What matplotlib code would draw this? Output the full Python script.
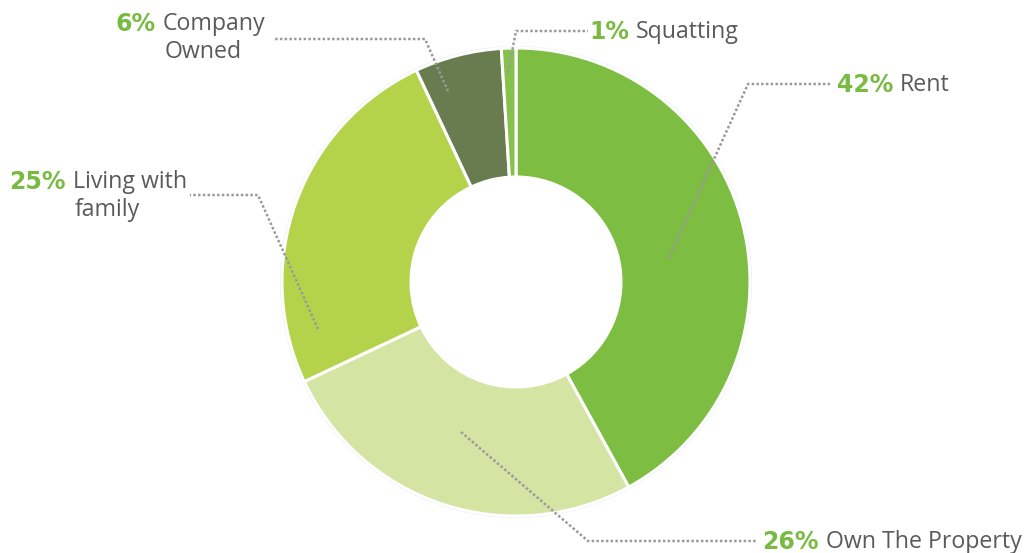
import matplotlib
matplotlib.use("Agg")
import matplotlib.pyplot as plt
from matplotlib.patches import Wedge

# ---- data ----
categories = ["Rent", "Own The Property", "Living with\nfamily", "Company\nOwned", "Squatting"]
shares = [42, 26, 25, 6, 1]
pct_labels = ["42%", "26%", "25%", "6%", "1%"]
colors = ["#7dbd42", "#d4e4a2", "#b4d34b", "#687c50", "#86c24b"]

# ---- layout (pixel space, y downward) ----
W, H = 1027, 553
center = (516, 282)
r_out, ring = 234, 129
# leader polylines: anchor in slice -> elbow -> end near label
leaders = [
    [(669, 258), (748, 84), (832, 84)],
    [(461, 432), (588, 541), (757, 541)],
    [(318, 329), (258, 195), (190, 195)],
    [(448, 91), (425, 39), (275, 39)],
    [(508, 73), (516, 31), (588, 31)],
]
# label anchors: (x where name text starts, y centre of first line)
label_pos = [(900, 85), (826, 542), (73, 182), (163, 24), (636, 32)]
name_indent = [0, 0, 2, 2, 0]

fig = plt.figure(figsize=(W / 100, H / 100), dpi=100)
ax = fig.add_axes([0, 0, 1, 1])

ax.add_patch(Wedge(center, r_out + 2, 0, 360, width=6,
                   facecolor="#e9eef1", edgecolor="none", zorder=0))
ax.pie(shares, colors=colors, center=center, radius=r_out,
       startangle=-90, counterclock=True,
       wedgeprops=dict(width=ring, edgecolor="white", linewidth=2.2))
ax.set_xlim(0, W)
ax.set_ylim(H, 0)
ax.set_aspect("auto")
ax.axis("off")

font = "Open Sans"
fs = 16.7
for pts in leaders:
    xs, ys = zip(*pts)
    ax.plot(xs, ys, color="#9a9a9a", lw=1.8, linestyle=(0, (1, 0.9)),
            dash_capstyle="butt", zorder=5)

for cat, pct, (x, y), ind in zip(categories, pct_labels, label_pos, name_indent):
    ax.text(x - 7, y, pct, ha="right", va="center", fontsize=17, fontweight="bold",
            color="#79ba43", family="DejaVu Sans")
    for i, line in enumerate(cat.split("\n")):
        ax.text(x + (ind if i else 0), y + 28 * i, line, ha="left", va="center",
                fontsize=fs, color="#5a5a5a", family=font)

fig.savefig("out.png", dpi=100)
